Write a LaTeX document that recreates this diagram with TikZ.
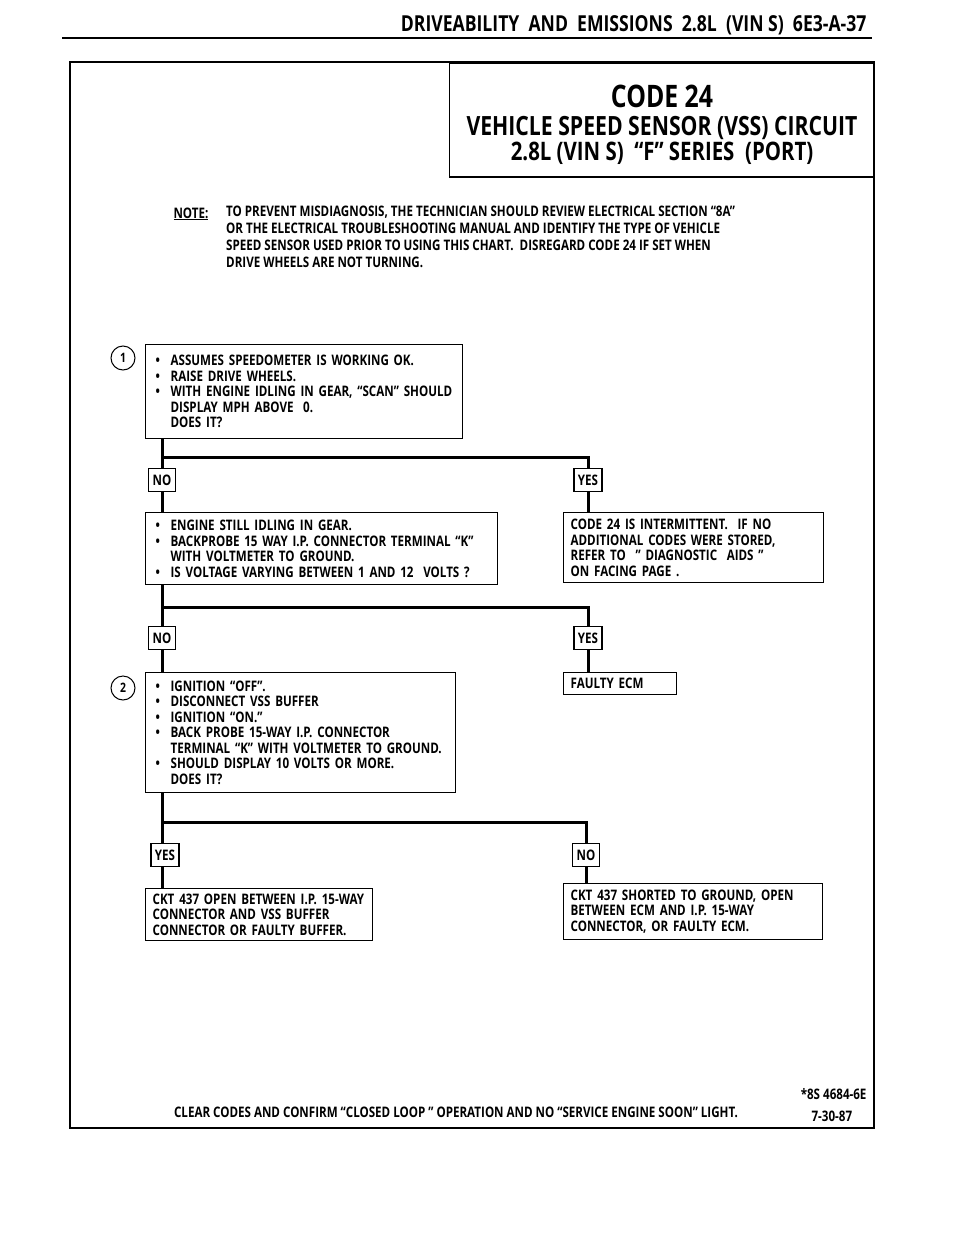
\documentclass[tikz,border=0pt]{standalone}
\usepackage{fontspec}
\setmainfont{Open Sans}[FakeStretch=0.8]
\usetikzlibrary{positioning}
\tikzset{
  txt/.style={font=\fontsize{14.5}{15.5}\selectfont\bfseries},
  box/.style={txt, draw, line width=1.3pt, anchor=north west, inner xsep=10pt, inner ysep=0pt, align=left},
  res/.style={box, inner xsep=7pt},
  ans/.style={txt, draw, line width=1.3pt, minimum height=23pt, inner xsep=4pt, inner ysep=0pt},
  flow/.style={line width=3pt},
  num/.style={circle, draw, line width=1pt, minimum size=24pt, inner sep=0pt, font=\fontsize{13}{13}\selectfont\bfseries}
}
\newcommand{\blt}{\makebox[15pt][l]{\textbullet}}
\newcommand{\gap}{\makebox[15pt]{}}
\begin{document}
\begin{tikzpicture}[x=1pt, y=-1pt]
		\useasboundingbox (0,0) rectangle (960,1242);
		% page header
		\node[anchor=base east, font=\fontsize{22}{22}\selectfont\bfseries] (head) at (870,31) {DRIVEABILITY~ AND~ EMISSIONS~ 2.8L~ (VIN S)~ 6E3-A-37};
		\draw[line width=2.5pt] (62,38) -- (872,38);
		% frame and title
		\draw[line width=2pt] (70,62) rectangle (874,1128);
		\node[draw, line width=1.5pt, anchor=north east, minimum width=424pt, minimum height=114pt] (title) at (874,62) {};
		\node[inner sep=0pt, font=\fontsize{31}{31}\selectfont\bfseries] (code) at (662,96) {CODE 24};
		\node[inner sep=0pt, font=\fontsize{26.5}{26.5}\selectfont\bfseries] (ttl2) at (662,128) {VEHICLE SPEED SENSOR (VSS) CIRCUIT};
		\node[inner sep=0pt, font=\fontsize{25.5}{25.5}\selectfont\bfseries] (ttl3) at (662,153) {2.8L (VIN S)~ “F” SERIES~ (PORT)};
		% note
		\node[txt, anchor=base west] (notelbl) at (170,218) {\underline{NOTE:}};
		\node[anchor=north west, align=left, inner sep=0pt, font=\fontsize{14.5}{17}\selectfont\bfseries] (note) at (226,206)
		{TO PREVENT MISDIAGNOSIS, THE TECHNICIAN SHOULD REVIEW ELECTRICAL SECTION “8A”\\
		OR THE ELECTRICAL TROUBLESHOOTING MANUAL AND IDENTIFY THE TYPE OF VEHICLE\\
		SPEED SENSOR USED PRIOR TO USING THIS CHART.~ DISREGARD CODE 24 IF SET WHEN\\
		DRIVE WHEELS ARE NOT TURNING.};
		% step 1
		\node[num] (c1) at (123,358) {1};
		\node[box, text width=297pt, minimum height=94pt] (q1) at (145,344)
		{\blt ASSUMES SPEEDOMETER IS WORKING OK.\\
		\blt RAISE DRIVE WHEELS.\\
		\blt WITH ENGINE IDLING IN GEAR, “SCAN” SHOULD\\
		\gap DISPLAY MPH ABOVE~ 0.\\
		\gap DOES IT?};
		\coordinate (br1) at (0,457);
		\node[ans] (no1) at (162,480) {NO};
		\node[ans] (yes1) at (588,480) {YES};
		\node[box, text width=332pt, minimum height=72pt] (q2) at (145,512)
		{\blt ENGINE STILL IDLING IN GEAR.\\
		\blt BACKPROBE 15 WAY I.P. CONNECTOR TERMINAL “K”\\
		\gap WITH VOLTMETER TO GROUND.\\
		\blt IS VOLTAGE VARYING BETWEEN 1 AND 12~ VOLTS ?};
		\node[res, text width=246pt, minimum height=70pt] (r1) at (563,512)
		{CODE 24 IS INTERMITTENT.~ IF NO\\
		ADDITIONAL CODES WERE STORED,\\
		REFER TO~ ” DIAGNOSTIC~ AIDS ”\\
		ON FACING PAGE .};
		\draw[flow] (q1.south -| no1) -- (no1.north);
		\draw[flow] (no1 |- br1) -| (yes1.north);
		\draw[flow] (no1.south) -- (no1.south |- q2.north);
		\draw[flow] (yes1.south) -- (yes1.south |- r1.north);
		% step 2
		\coordinate (br2) at (0,607);
		\node[ans] (no2) at (162,638) {NO};
		\node[ans] (yes2) at (588,638) {YES};
		\node[num] (c2) at (123,688) {2};
		\node[box, text width=290pt, minimum height=120pt] (q3) at (145,672)
		{\blt IGNITION “OFF”.\\
		\blt DISCONNECT VSS BUFFER\\
		\blt IGNITION “ON.”\\
		\blt BACK PROBE 15-WAY I.P. CONNECTOR\\
		\gap TERMINAL “K” WITH VOLTMETER TO GROUND.\\
		\blt SHOULD DISPLAY 10 VOLTS OR MORE.\\
		\gap DOES IT?};
		\node[res, text width=99pt, minimum height=22pt] (r2) at (563,672) {FAULTY ECM};
		\draw[flow] (q2.south -| no2) -- (no2.north);
		\draw[flow] (no2 |- br2) -| (yes2.north);
		\draw[flow] (no2.south) -- (no2.south |- q3.north);
		\draw[flow] (yes2.south) -- (yes2.south |- r2.north);
		% step 3
		\coordinate (br3) at (0,822);
		\node[ans] (yes3) at (165,855) {YES};
		\node[ans] (no3) at (586,855) {NO};
		\node[res, text width=213pt, minimum height=52pt] (r3) at (145,888)
		{CKT 437 OPEN BETWEEN I.P. 15-WAY\\
		CONNECTOR AND VSS BUFFER\\
		CONNECTOR OR FAULTY BUFFER.};
		\node[res, text width=245pt, minimum height=56pt] (r4) at (563,883)
		{CKT 437 SHORTED TO GROUND, OPEN\\
		BETWEEN ECM AND I.P. 15-WAY\\
		CONNECTOR, OR FAULTY ECM.};
		\draw[flow] (q3.south -| no2) -- (no2 |- yes3.north);
		\draw[flow] (no2 |- br3) -| (no3.north);
		\draw[flow] (no2 |- yes3.south) -- (no2 |- r3.north);
		\draw[flow] (no3.south) -- (no3.south |- r4.north);
		% footer
		\node[txt, anchor=base] (clear) at (456,1117) {CLEAR CODES AND CONFIRM “CLOSED LOOP ” OPERATION AND NO “SERVICE ENGINE SOON” LIGHT.};
		\node[txt, anchor=base east] (ref) at (870,1099) {*8S 4684-6E};
		\node[txt, anchor=base west] (date) at (808,1121) {7-30-87};
	\end{tikzpicture}
\end{document}
